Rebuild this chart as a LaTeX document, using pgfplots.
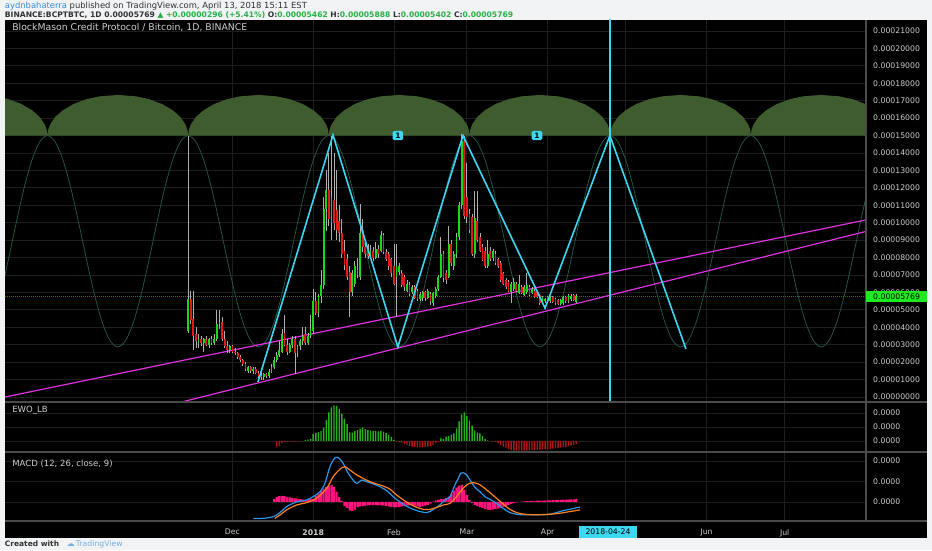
\documentclass[border=0pt]{standalone}
\usepackage{pgfplots}
\pgfplotsset{compat=1.18}
\usepackage{pgfplotstable}
\usepackage{fontspec}
\setmainfont{DejaVu Sans}
\definecolor{gridc}{RGB}{30,30,30}
\definecolor{sepc}{RGB}{75,75,75}
\definecolor{txt}{RGB}{205,205,205}
\definecolor{upc}{RGB}{25,215,25}
\definecolor{downc}{RGB}{228,25,25}
\definecolor{wick}{RGB}{175,175,175}
\definecolor{cyanl}{RGB}{60,215,240}
\definecolor{mag}{RGB}{225,50,225}
\definecolor{dome}{RGB}{62,92,46}
\definecolor{cyc}{RGB}{35,88,78}
\definecolor{ewog}{RGB}{40,175,30}
\definecolor{ewor}{RGB}{175,20,20}
\definecolor{macdh}{RGB}{255,20,125}
\definecolor{macdb}{RGB}{40,150,235}
\definecolor{macdo}{RGB}{255,130,30}
\definecolor{hdrbg}{RGB}{241,243,245}
\definecolor{hdrtxt}{RGB}{50,50,50}
\definecolor{hdrblue}{RGB}{55,140,215}
\definecolor{hdrgreen}{RGB}{40,175,70}
\definecolor{pgreen}{RGB}{30,235,30}
\newcommand{\tvlab}{\fontsize{5.8}{6.5}\selectfont}
\newcommand{\tvtitle}{\fontsize{7.0}{8}\selectfont}
\newcommand{\tvpane}{\fontsize{6.4}{7}\selectfont}

\pgfplotstableread{
d o h l c
-17 3.8 15.0 3.7 5.6
-13 3.1 3.6 2.8 3.3
-11 3.1 3.4 2.6 3.3
-9 3.0 3.4 2.8 3.3
-7 3.1 3.6 3.0 3.3
-6 3.3 5.0 3.2 4.2
-5 4.2 5.0 3.9 4.3
-1 2.7 3.0 2.5 2.9
6 1.5 1.8 1.4 1.7
8 1.5 1.7 1.3 1.6
12 1.15 1.4 0.95 1.3
14 1.2 1.6 1.1 1.45
15 1.45 1.9 1.4 1.7
16 1.7 2.3 1.6 2.1
17 2.1 2.6 2.0 2.4
18 2.4 3.2 2.3 2.7
19 2.6 3.9 2.5 3.6
22 2.6 3.1 2.5 3.0
23 3.0 3.5 2.8 3.3
25 2.5 3.0 2.3 2.9
26 2.9 3.3 2.7 3.2
27 3.2 4.0 3.0 3.5
29 3.1 3.7 3.0 3.5
30 3.5 4.7 3.4 3.9
31 3.8 6.2 3.6 5.5
33 4.8 5.9 4.6 5.8
34 5.8 7.3 5.4 6.4
35 6.4 11.5 6.2 10.8
36 10.8 13.0 9.5 11.9
38 10.0 15.0 9.0 11.5
46 6.0 7.3 5.8 7.1
47 6.5 7.8 6.3 7.5
48 7.0 8.0 6.8 7.3
49 6.9 11.1 6.7 9.4
53 8.1 8.7 7.9 8.4
55 8.0 8.9 7.9 8.5
57 8.4 9.5 8.3 9.3
63 6.9 8.8 4.6 7.5
64 7.2 7.7 7.0 7.5
67 6.1 6.7 6.0 6.5
69 6.0 6.4 5.9 6.3
72 5.6 6.0 5.5 5.9
73 5.7 6.1 5.5 6.0
75 5.7 6.2 5.6 6.1
77 5.4 6.0 5.2 5.95
78 5.8 6.3 5.7 6.2
79 6.2 7.0 6.1 6.9
80 6.9 9.2 6.8 8.2
83 6.9 9.8 6.8 8.8
85 7.5 8.4 7.3 8.2
86 8.2 9.4 8.0 9.2
87 9.2 11.2 9.0 11.0
88 11.0 15.1 10.8 14.7
93 8.2 11.8 8.0 10.25
98 7.5 9.0 7.4 8.2
100 8.0 8.5 7.8 8.4
107 6.0 6.6 5.4 6.5
108 6.2 6.8 6.1 6.6
110 5.95 7.0 5.9 6.5
112 5.85 6.4 5.8 6.3
113 6.0 7.1 5.9 6.4
115 5.95 6.3 5.9 6.2
119 5.5 5.8 5.4 5.75
120 5.5 5.7 5.4 5.65
122 5.5 5.8 5.4 5.75
126 5.35 5.6 5.3 5.55
127 5.4 5.8 5.3 5.75
129 5.5 5.9 5.4 5.85
130 5.6 5.9 5.5 5.8
132 5.46 5.89 5.40 5.77
}\upc

\pgfplotstableread{
d o h l c
-16 5.6 6.1 4.2 4.4
-15 4.5 6.1 2.7 3.5
-14 3.6 4.0 2.8 3.2
-12 3.3 3.5 2.9 3.1
-10 3.3 3.5 2.9 3.0
-8 3.3 3.5 3.0 3.1
-4 4.3 4.6 3.2 3.3
-3 3.3 3.8 2.8 2.9
-2 2.9 3.2 2.5 2.7
0 2.9 3.0 2.5 2.6
1 2.6 2.8 2.4 2.5
2 2.5 2.6 2.2 2.3
3 2.3 2.4 2.0 2.1
4 2.1 2.2 1.8 1.9
5 1.9 2.0 1.5 1.6
7 1.7 1.8 1.4 1.5
9 1.6 1.7 1.3 1.4
10 1.4 1.5 1.1 1.2
11 1.2 1.4 1.0 1.15
13 1.3 1.4 1.1 1.2
20 3.7 4.7 2.9 3.0
21 3.0 3.3 2.4 2.6
24 3.3 3.5 1.3 2.5
28 3.6 4.0 3.0 3.1
32 5.5 6.0 4.7 4.8
37 11.9 14.0 9.8 10.2
39 11.3 14.0 9.6 10.0
40 10.7 13.0 9.0 9.6
41 10.1 11.0 8.9 9.4
42 9.4 10.2 8.0 8.2
43 8.4 9.0 7.3 7.6
44 7.9 8.2 6.7 6.9
45 7.2 7.5 4.6 6.0
50 9.6 10.2 8.3 8.6
51 8.6 8.9 8.0 8.2
52 8.5 8.8 7.9 8.1
54 8.4 8.6 7.8 8.0
56 8.5 8.7 8.0 8.2
58 9.3 9.4 8.2 8.3
59 8.3 8.5 7.8 7.9
60 8.2 8.3 7.3 7.5
61 7.9 8.0 6.9 7.1
62 7.5 8.8 6.4 6.5
65 7.1 7.3 6.3 6.4
66 6.9 7.0 6.1 6.3
68 6.4 6.6 5.8 5.9
70 6.3 6.4 5.6 5.7
71 6.1 6.2 5.5 5.6
74 6.0 6.1 5.5 5.7
76 5.9 6.0 5.3 5.5
81 8.2 8.4 6.6 6.8
82 7.1 7.3 6.5 6.7
84 8.8 9.0 7.5 7.7
89 14.7 15.0 10.2 10.4
90 11.5 13.4 10.0 10.3
91 10.5 10.8 9.4 9.6
92 10.3 10.5 8.1 8.2
94 10.1 11.8 8.9 9.0
95 9.2 9.4 8.3 8.4
96 8.6 8.8 7.8 7.85
97 8.4 8.6 7.4 7.5
99 8.4 8.6 7.8 7.9
101 8.2 8.4 7.6 7.7
102 7.9 8.0 7.4 7.5
103 7.7 7.8 6.6 6.7
104 7.1 7.2 6.4 6.5
105 6.7 6.8 6.2 6.3
106 6.6 6.7 6.0 6.1
109 6.5 6.6 6.0 6.1
111 6.3 6.4 5.9 5.95
114 6.3 6.4 5.8 5.85
116 6.1 6.2 5.7 5.75
117 6.0 6.1 5.7 5.75
118 5.85 5.9 5.3 5.4
121 5.75 5.8 5.4 5.5
123 5.75 5.8 5.4 5.45
124 5.65 5.7 5.3 5.4
125 5.55 5.6 5.3 5.35
128 5.75 5.8 5.4 5.5
131 5.85 5.9 5.5 5.55
}\downc

\pgfplotstableread{
d v
28 0.07
29 0.1
30 0.15
31 0.5
32 0.58
33 0.63
34 0.72
35 0.95
36 1.5
37 2.05
38 2.4
39 2.55
40 2.52
41 2.3
42 1.95
43 1.6
44 1.2
45 0.62
46 0.6
47 0.7
48 0.78
49 0.88
50 0.98
51 0.85
52 0.78
53 0.74
54 0.72
55 0.7
56 0.68
57 0.7
58 0.66
59 0.56
60 0.45
61 0.3
62 0.08
80 0.19
81 0.15
82 0.31
83 0.35
84 0.45
85 0.55
86 0.9
87 1.4
88 1.9
89 2.05
90 1.8
91 1.45
92 1.1
93 0.75
94 0.6
95 0.55
96 0.35
97 0.15
98 0.05
}\ewoup

\pgfplotstableread{
d v
17 -0.45
18 -0.35
19 -0.15
20 -0.08
21 -0.05
22 -0.04
23 -0.04
24 -0.04
25 -0.03
26 -0.03
27 -0.02
63 -0.03
64 -0.06
65 -0.12
66 -0.2
67 -0.28
68 -0.35
69 -0.4
70 -0.43
71 -0.45
72 -0.46
73 -0.45
74 -0.43
75 -0.4
76 -0.36
77 -0.3
78 -0.18
79 -0.06
99 -0.02
100 -0.03
101 -0.06
102 -0.15
103 -0.29
104 -0.4
105 -0.52
106 -0.6
107 -0.66
108 -0.69
109 -0.7
110 -0.7
111 -0.7
112 -0.7
113 -0.69
114 -0.68
115 -0.66
116 -0.64
117 -0.63
118 -0.62
119 -0.61
120 -0.6
121 -0.58
122 -0.56
123 -0.54
124 -0.52
125 -0.5
126 -0.48
127 -0.45
128 -0.42
129 -0.38
130 -0.33
131 -0.28
132 -0.2
}\ewodn

\pgfplotstableread{
d v
16 0.15
17 0.25
18 0.28
19 0.3
20 0.28
21 0.25
22 0.22
23 0.2
24 0.18
25 0.16
26 0.14
27 0.12
28 0.1
29 0.12
30 0.18
31 0.15
32 0.3
33 0.41
34 0.55
35 0.65
36 0.72
37 0.78
38 0.83
39 0.72
40 0.5
41 0.25
42 0.05
43 -0.2
44 -0.3
45 -0.42
46 -0.45
47 -0.38
48 -0.25
49 -0.22
50 -0.2
51 -0.18
52 -0.17
53 -0.16
54 -0.15
55 -0.16
56 -0.17
57 -0.17
58 -0.18
59 -0.2
60 -0.22
61 -0.24
62 -0.26
63 -0.26
64 -0.25
65 -0.22
66 -0.2
67 -0.18
68 -0.17
69 -0.16
70 -0.18
71 -0.22
72 -0.24
73 -0.22
74 -0.18
75 -0.14
76 -0.08
77 0.02
78 0.08
79 0.1
80 0.14
81 0.15
82 0.2
83 0.26
84 0.4
85 0.55
86 0.7
87 0.8
88 0.83
89 0.6
90 0.35
91 0.1
92 -0.05
93 -0.15
94 -0.2
95 -0.25
96 -0.3
97 -0.35
98 -0.38
99 -0.4
100 -0.38
101 -0.35
102 -0.32
103 -0.28
104 -0.24
105 -0.2
106 -0.15
107 -0.1
108 -0.06
109 -0.02
110 0.01
111 0.02
112 0.03
113 0.04
114 0.04
115 0.05
116 0.05
117 0.06
118 0.06
119 0.07
120 0.07
121 0.08
122 0.08
123 0.09
124 0.09
125 0.1
126 0.1
127 0.11
128 0.12
129 0.12
130 0.13
131 0.13
132 0.14
}\macdhist

\pgfplotsset{
  tvpane/.style={
    scale only axis, width=645.75pt,
    xmin=-87.3, xmax=243.2,
    axis line style={draw=none},
    xtick={0,31,62,90,121,151,182,212},
    xmajorgrids, ymajorgrids,
    grid style={draw=gridc, line width=0.6pt},
    tick style={draw=none},
    ytick pos=right, yticklabel pos=right,
    yticklabel style={font=\tvlab, text=txt, anchor=west, inner sep=0pt, xshift=5.2pt},
    xticklabel style={font=\tvlab, text=txt},
    clip mode=individual,
  }
}

\begin{document}
\begin{tikzpicture}
\useasboundingbox (0,0) rectangle (699pt,412.5pt);
\fill[hdrbg] (0,0) rectangle (699pt,412.5pt);
\fill[black] (3.75pt,9pt) rectangle (695.25pt,397.5pt);

% header
\node[anchor=west, inner sep=0pt, font=\fontsize{6.3}{7}\selectfont, text=hdrtxt] at (3.5pt,408pt)
  {{\color{hdrblue}aydnbahaterra} published on TradingView.com, April 13, 2018 15:11 EST};
\node[anchor=west, inner sep=0pt, font=\fontsize{5.7}{7}\selectfont\bfseries, text=hdrtxt] at (3.5pt,401pt)
  {BINANCE:BCPTBTC, 1D 0.00005769 {\color{hdrgreen}▲ +0.00000296 (+5.41\%)} O:{\color{hdrgreen}0.00005462} H:{\color{hdrgreen}0.00005888} L:{\color{hdrgreen}0.00005402} C:{\color{hdrgreen}0.00005769}};

% main price pane
\begin{axis}[tvpane, at={(3.75pt,111pt)}, anchor=south west, height=286.5pt,
  ymin=-0.287, ymax=21.63, ytick={0,1,...,21}, xticklabels={},
  yticklabels={0.00000000,0.00001000,0.00002000,0.00003000,0.00004000,0.00005000,0.00006000,0.00007000,0.00008000,0.00009000,0.00010000,0.00011000,0.00012000,0.00013000,0.00014000,0.00015000,0.00016000,0.00017000,0.00018000,0.00019000,0.00020000,0.00021000}]
% cycle domes
\addplot[draw=none, fill=dome] coordinates {
(-125,15) (-124.75,15.32) (-124,15.63) (-122,16.07) (-119,16.46) (-115,16.81) (-110,17.09) (-105,17.25) (-98,17.33) (-91,17.25) (-86,17.09) (-81,16.81) (-77,16.46) (-74,16.07) (-72,15.63) (-71.25,15.32) (-71,15)
(-70.75,15.32) (-70,15.63) (-68,16.07) (-65,16.46) (-61,16.81) (-56,17.09) (-51,17.25) (-44,17.33) (-37,17.25) (-32,17.09) (-27,16.81) (-23,16.46) (-20,16.07) (-18,15.63) (-17.25,15.32) (-17,15)
(-16.75,15.32) (-16,15.63) (-14,16.07) (-11,16.46) (-7,16.81) (-2,17.09) (3,17.25) (10,17.33) (17,17.25) (22,17.09) (27,16.81) (31,16.46) (34,16.07) (36,15.63) (36.75,15.32) (37,15)
(37.25,15.32) (38,15.63) (40,16.07) (43,16.46) (47,16.81) (52,17.09) (57,17.25) (64,17.33) (71,17.25) (76,17.09) (81,16.81) (85,16.46) (88,16.07) (90,15.63) (90.75,15.32) (91,15)
(91.25,15.32) (92,15.63) (94,16.07) (97,16.46) (101,16.81) (106,17.09) (111,17.25) (118,17.33) (125,17.25) (130,17.09) (135,16.81) (139,16.46) (142,16.07) (144,15.63) (144.75,15.32) (145,15)
(145.25,15.32) (146,15.63) (148,16.07) (151,16.46) (155,16.81) (160,17.09) (165,17.25) (172,17.33) (179,17.25) (184,17.09) (189,16.81) (193,16.46) (196,16.07) (198,15.63) (198.75,15.32) (199,15)
(199.25,15.32) (200,15.63) (202,16.07) (205,16.46) (209,16.81) (214,17.09) (219,17.25) (226,17.33) (233,17.25) (238,17.09) (243,16.81) (247,16.46) (250,16.07) (252,15.63) (252.75,15.32) (253,15)
};
% cycle wave
\addplot[cyc, line width=0.55pt, smooth] coordinates {
(-98,2.87) (-95,3.24) (-92,4.29) (-89,5.90) (-86,7.88) (-83,9.99) (-80,11.97) (-77,13.58) (-74,14.63) (-71,15.0)
(-68,14.63) (-65,13.58) (-62,11.97) (-59,9.99) (-56,7.88) (-53,5.90) (-50,4.29) (-47,3.24) (-44,2.87) (-41,3.24) (-38,4.29) (-35,5.90) (-32,7.88) (-29,9.99) (-26,11.97) (-23,13.58) (-20,14.63) (-17,15.0)
(-14,14.63) (-11,13.58) (-8,11.97) (-5,9.99) (-2,7.88) (1,5.90) (4,4.29) (7,3.24) (10,2.87) (13,3.24) (16,4.29) (19,5.90) (22,7.88) (25,9.99) (28,11.97) (31,13.58) (34,14.63) (37,15.0)
(40,14.63) (43,13.58) (46,11.97) (49,9.99) (52,7.88) (55,5.90) (58,4.29) (61,3.24) (64,2.87) (67,3.24) (70,4.29) (73,5.90) (76,7.88) (79,9.99) (82,11.97) (85,13.58) (88,14.63) (91,15.0)
(94,14.63) (97,13.58) (100,11.97) (103,9.99) (106,7.88) (109,5.90) (112,4.29) (115,3.24) (118,2.87) (121,3.24) (124,4.29) (127,5.90) (130,7.88) (133,9.99) (136,11.97) (139,13.58) (142,14.63) (145,15.0)
(148,14.63) (151,13.58) (154,11.97) (157,9.99) (160,7.88) (163,5.90) (166,4.29) (169,3.24) (172,2.87) (175,3.24) (178,4.29) (181,5.90) (184,7.88) (187,9.99) (190,11.97) (193,13.58) (196,14.63) (199,15.0)
(202,14.63) (205,13.58) (208,11.97) (211,9.99) (214,7.88) (217,5.90) (220,4.29) (223,3.24) (226,2.87) (229,3.24) (232,4.29) (235,5.90) (238,7.88) (241,9.99) (244,11.97) (247,13.58)
};
% last price line
\addplot[green!55!black, line width=0.5pt, densely dotted] coordinates {(-87.3,5.769) (243.2,5.769)};
% trend channel
\addplot[mag, line width=0.9pt] coordinates {(-87.3,0) (243.2,10.16)};
\addplot[mag, line width=0.9pt] coordinates {(-25,-0.49) (243.2,9.50)};
% candles: wicks
\addplot[draw=none, forget plot, error bars/.cd, y dir=plus, y explicit, error mark=none,
  error bar style={draw=wick, line width=0.6pt}] table[x=d, y=l, y error expr=\thisrow{h}-\thisrow{l}] {\upc};
\addplot[draw=none, forget plot, error bars/.cd, y dir=plus, y explicit, error mark=none,
  error bar style={draw=wick, line width=0.6pt}] table[x=d, y=l, y error expr=\thisrow{h}-\thisrow{l}] {\downc};
% candles: bodies
\addplot[draw=none, forget plot, error bars/.cd, y dir=plus, y explicit, error mark=none,
  error bar style={draw=upc, line width=1.35pt}] table[x=d, y=o, y error expr=\thisrow{c}-\thisrow{o}] {\upc};
\addplot[draw=none, forget plot, error bars/.cd, y dir=plus, y explicit, error mark=none,
  error bar style={draw=downc, line width=1.35pt}] table[x=d, y=c, y error expr=\thisrow{o}-\thisrow{c}] {\downc};
% zigzag
\addplot[cyanl, line width=1.2pt] coordinates {(9.8,0.86) (38.6,15.03) (63.5,2.87) (88.5,15.0) (120,5.1) (144.9,15.0) (174.1,2.75)};
% vertical marker
\addplot[cyanl, line width=1.5pt] coordinates {(144.8,-1) (144.8,23)};
\node[fill=cyanl, rounded corners=1.2pt, inner sep=0.8pt, minimum width=8pt, minimum height=7pt, font=\fontsize{5.6}{5.6}\selectfont\bfseries, text=black] at (axis cs:63.5,15) {1};
\node[fill=cyanl, rounded corners=1.2pt, inner sep=0.8pt, minimum width=8pt, minimum height=7pt, font=\fontsize{5.6}{5.6}\selectfont\bfseries, text=black] at (axis cs:116.9,15) {1};
\end{axis}

% EWO pane
\begin{axis}[tvpane, at={(3.75pt,73.5pt)}, anchor=south west, height=37.5pt,
  ymin=-0.79, ymax=2.79, ytick={0,1,2}, yticklabels={0.0000,0.0000,0.0000}, xticklabels={}]
\addplot[ybar, bar width=0.55, bar shift=0pt, fill=ewog, draw=none] table[x=d, y=v] {\ewoup};
\addplot[ybar, bar width=0.55, bar shift=0pt, fill=ewor, draw=none] table[x=d, y=v] {\ewodn};
\end{axis}

% MACD pane
\begin{axis}[tvpane, at={(3.75pt,21.75pt)}, anchor=south west, height=51.75pt,
  ymin=-0.93, ymax=2.44, ytick={0,1,2}, yticklabels={0.0000,0.0000,0.0000},
  xticklabels={Dec,\textbf{2018},Feb,Mar,Apr,,Jun,Jul},
  xticklabel style={inner sep=0pt, yshift=-6pt}]
\addplot[ybar, bar width=0.85, bar shift=0pt, fill=macdh, draw=none] table[x=d, y=v] {\macdhist};
\addplot[macdb, line width=0.9pt, smooth] coordinates {
(8,-0.8) (11.8,-0.8) (15.7,-0.72) (18.2,-0.52) (20.8,-0.23) (24.6,0.0) (28.5,0.1) (31,0.26) (33.6,0.5) (35.5,0.91) (37.4,1.72) (38.7,2.05) (39.7,2.18) (41,2.13) (42.5,1.89) (44.1,1.48) (45.8,1.15) (47.7,0.91) (49.6,1.07) (51.5,0.99) (54.1,0.88) (56.6,0.75) (59.2,0.55) (61.7,0.26) (64.3,0.0) (66.9,-0.21) (69.4,-0.36) (72,-0.47) (74.5,-0.52) (75.8,-0.47) (77.7,-0.31) (79.6,-0.15) (81.6,0.1) (83.5,0.26) (85.4,0.83) (86.7,1.15) (87.6,1.4) (88.6,1.43) (89.9,1.32) (91.2,1.07) (93.1,0.72) (95,0.5) (96.9,0.26) (98.8,0.13) (101.4,-0.07) (103.9,-0.31) (106.5,-0.52) (109.1,-0.6) (111.6,-0.63) (114.2,-0.63) (118,-0.63) (121.9,-0.6) (124.4,-0.52) (127,-0.42) (129.5,-0.36) (132.1,-0.28) (133.4,-0.26)};
\addplot[macdo, line width=0.9pt, smooth] coordinates {
(16.3,-0.8) (18.2,-0.64) (20.8,-0.39) (24.6,-0.15) (28.5,-0.03) (32.3,0.18) (36.2,0.67) (38.7,1.24) (41.3,1.6) (43.2,1.72) (45.1,1.56) (47.7,1.32) (50.2,1.15) (52.8,0.99) (55.3,0.88) (57.9,0.78) (60.5,0.62) (63,0.34) (65.6,0.1) (68.1,-0.1) (70.7,-0.26) (73.3,-0.36) (75.8,-0.36) (78.4,-0.27) (80.9,-0.15) (83.5,-0.07) (86,0.26) (88.6,0.67) (90.5,0.88) (92.4,0.94) (94.4,0.88) (96.3,0.72) (98.8,0.46) (101.4,0.18) (103.9,-0.1) (106.5,-0.36) (109.1,-0.52) (111.6,-0.59) (114.2,-0.62) (118,-0.62) (121.9,-0.6) (125.7,-0.55) (129.5,-0.47) (133.4,-0.39)};
\end{axis}

% separators
\draw[sepc, line width=1.2pt] (3.75pt,111pt) -- (695.25pt,111pt);
\draw[sepc, line width=1.2pt] (3.75pt,73.5pt) -- (695.25pt,73.5pt);
\draw[sepc, line width=0.8pt] (3.75pt,21.75pt) -- (695.25pt,21.75pt);
\draw[sepc, line width=0.8pt] (649.5pt,21.75pt) -- (649.5pt,397.5pt);

% pane titles
\node[anchor=west, inner sep=0pt, font=\tvtitle, text=txt] at (9pt,391.5pt) {BlockMason Credit Protocol / Bitcoin, 1D, BINANCE};
\node[anchor=west, inner sep=0pt, font=\tvpane, text=txt] at (9pt,105pt) {EWO\_LB};
\node[anchor=west, inner sep=0pt, font=\tvpane, text=txt] at (9pt,64.5pt) {MACD (12, 26, close, 9)};

% last price tag
\fill[pgreen] (649.5pt,185.8pt) rectangle (695.25pt,194.6pt);
\node[anchor=west, inner sep=0pt, font=\tvlab, text=black] at (654.7pt,190.2pt) {0.00005769};

% date tag
\fill[cyanl] (434pt,9pt) rectangle (478pt,18pt);
\node[inner sep=0pt, font=\tvlab, text=black] at (456pt,13.5pt) {2018-04-24};

% footer
\node[anchor=west, inner sep=0pt, font=\fontsize{5.6}{6}\selectfont\bfseries, text=hdrtxt] at (3.5pt,4.4pt) {Created with};
\node[anchor=west, inner sep=0pt, font=\fontsize{5.8}{6}\selectfont, text=hdrblue!70] at (50pt,4.4pt) {☁\,TradingView};
\end{tikzpicture}
\end{document}
